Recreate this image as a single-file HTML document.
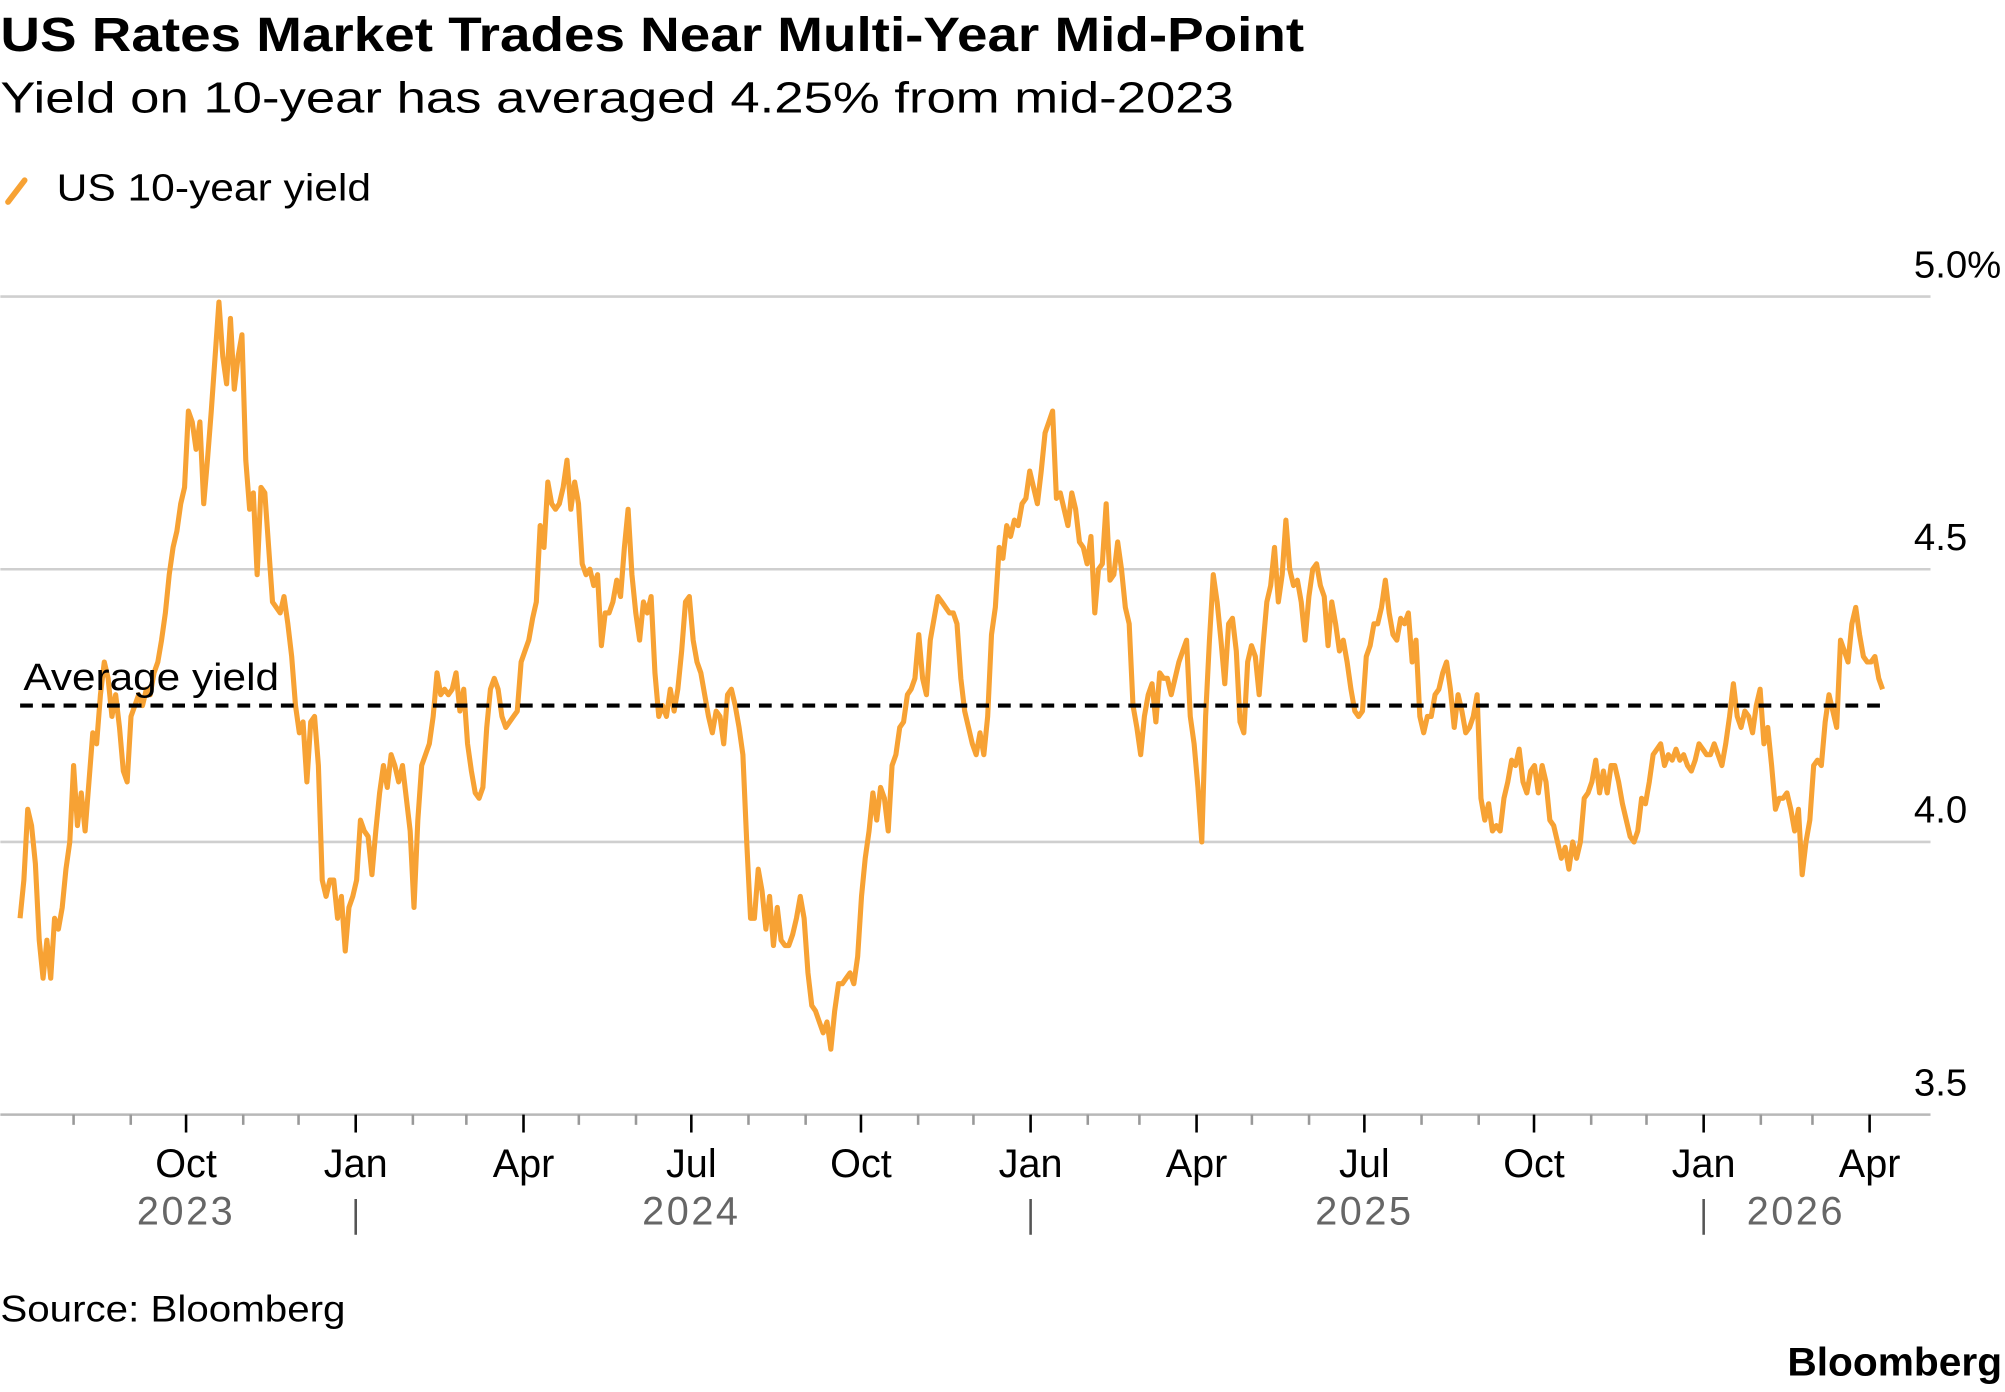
<!DOCTYPE html>
<html><head><meta charset="utf-8"><style>
html,body{margin:0;padding:0;background:#fff;}
svg{display:block;font-family:"Liberation Sans",sans-serif;}
</style></head><body>
<svg id="chart" width="2005" height="1392" viewBox="0 0 1568 1089" xmlns="http://www.w3.org/2000/svg">
<text x="0" y="40" font-size="38" font-weight="bold" fill="#000" textLength="1020" lengthAdjust="spacingAndGlyphs">US Rates Market Trades Near Multi-Year Mid-Point</text>
<text x="0" y="88" font-size="34" fill="#000" textLength="965" lengthAdjust="spacingAndGlyphs">Yield on 10-year has averaged 4.25% from mid-2023</text>
<g>
<line x1="6" y1="158" x2="19" y2="141" stroke="#f7a234" stroke-width="4.5" stroke-linecap="round"/>
<text x="44" y="157" font-size="30" fill="#000" textLength="246" lengthAdjust="spacingAndGlyphs">US 10-year yield</text>
</g>
<g id="grid"></g>
<g id="xaxis"></g>
<g id="series"></g>
<text x="0" y="1034" font-size="29" fill="#000" textLength="270" lengthAdjust="spacingAndGlyphs">Source: Bloomberg</text>
<text x="1398" y="1076" font-size="31" font-weight="bold" fill="#000" textLength="168" lengthAdjust="spacingAndGlyphs">Bloomberg</text>
</svg>
<script>
const yTicks=[3.5,4.0,4.5,5.0];
const yTickLabels=["3.5","4.0","4.5","5.0%"];
const averageYield=4.25;
const startDate="2023-07-03";
const endDate="2026-04-08";
const monthLabels=["Oct","Jan","Apr","Jul","Oct","Jan","Apr","Jul","Oct","Jan","Apr"];
const monthLabelDates=["2023-10-01","2024-01-01","2024-04-01","2024-07-01","2024-10-01","2025-01-01","2025-04-01","2025-07-01","2025-10-01","2026-01-01","2026-04-01"];
const yearLabels=["2023","2024","2025","2026"];
const yearLabelDates=["2023-10-01","2024-07-01","2025-07-01","2026-02-20"];
const yieldValues=[3.86,3.93,4.06,4.03,3.96,3.82,3.75,3.82,3.75,3.86,3.84,3.88,3.95,4.00,4.14,4.03,4.09,4.02,4.11,4.20,4.18,4.27,4.33,4.30,4.23,4.27,4.21,4.13,4.11,4.23,4.25,4.27,4.25,4.28,4.27,4.31,4.33,4.37,4.42,4.49,4.54,4.57,4.62,4.65,4.79,4.77,4.72,4.77,4.62,4.70,4.79,4.89,4.99,4.89,4.84,4.96,4.83,4.89,4.93,4.70,4.61,4.64,4.49,4.65,4.64,4.54,4.44,4.43,4.42,4.45,4.40,4.34,4.25,4.20,4.22,4.11,4.22,4.23,4.14,3.93,3.90,3.93,3.93,3.86,3.90,3.80,3.88,3.90,3.93,4.04,4.02,4.01,3.94,4.02,4.09,4.14,4.10,4.16,4.14,4.11,4.14,4.08,4.02,3.88,4.04,4.14,4.16,4.18,4.23,4.31,4.27,4.28,4.27,4.28,4.31,4.24,4.28,4.18,4.13,4.09,4.08,4.10,4.21,4.28,4.30,4.28,4.23,4.21,4.22,4.23,4.24,4.33,4.35,4.37,4.41,4.44,4.58,4.54,4.66,4.62,4.61,4.62,4.65,4.70,4.61,4.66,4.62,4.51,4.49,4.50,4.47,4.49,4.36,4.42,4.42,4.44,4.48,4.45,4.54,4.61,4.49,4.42,4.37,4.44,4.42,4.45,4.31,4.23,4.25,4.23,4.28,4.24,4.28,4.35,4.44,4.45,4.37,4.33,4.31,4.27,4.23,4.20,4.24,4.23,4.18,4.27,4.28,4.25,4.21,4.16,4.00,3.86,3.86,3.95,3.91,3.84,3.90,3.81,3.88,3.82,3.81,3.81,3.83,3.86,3.90,3.86,3.76,3.70,3.69,3.67,3.65,3.67,3.62,3.69,3.74,3.74,3.75,3.76,3.74,3.79,3.90,3.97,4.02,4.09,4.04,4.10,4.08,4.02,4.14,4.16,4.21,4.22,4.27,4.28,4.30,4.38,4.30,4.27,4.37,4.41,4.45,4.44,4.43,4.42,4.42,4.40,4.30,4.24,4.21,4.18,4.16,4.20,4.16,4.23,4.38,4.43,4.54,4.52,4.58,4.56,4.59,4.58,4.62,4.63,4.68,4.65,4.62,4.68,4.75,4.77,4.79,4.63,4.64,4.61,4.58,4.64,4.61,4.55,4.54,4.51,4.56,4.42,4.50,4.51,4.62,4.48,4.49,4.55,4.50,4.43,4.40,4.25,4.21,4.16,4.23,4.27,4.29,4.22,4.31,4.30,4.30,4.27,4.30,4.33,4.35,4.37,4.23,4.18,4.10,4.00,4.23,4.37,4.49,4.44,4.37,4.29,4.40,4.41,4.35,4.22,4.20,4.33,4.36,4.34,4.27,4.36,4.44,4.47,4.54,4.44,4.49,4.59,4.50,4.47,4.48,4.44,4.37,4.45,4.50,4.51,4.47,4.45,4.36,4.44,4.40,4.35,4.37,4.33,4.28,4.24,4.23,4.24,4.34,4.36,4.40,4.40,4.43,4.48,4.42,4.38,4.37,4.41,4.40,4.42,4.33,4.37,4.23,4.20,4.23,4.23,4.27,4.28,4.31,4.33,4.28,4.21,4.27,4.24,4.20,4.21,4.23,4.27,4.08,4.04,4.07,4.02,4.03,4.02,4.08,4.11,4.15,4.14,4.17,4.11,4.09,4.13,4.14,4.09,4.14,4.11,4.04,4.03,4.00,3.97,3.99,3.95,4.00,3.97,4.00,4.08,4.09,4.11,4.15,4.09,4.13,4.09,4.14,4.14,4.11,4.07,4.04,4.01,4.00,4.02,4.08,4.07,4.11,4.16,4.17,4.18,4.14,4.16,4.15,4.17,4.15,4.16,4.14,4.13,4.15,4.18,4.17,4.16,4.16,4.18,4.16,4.14,4.18,4.23,4.29,4.23,4.21,4.24,4.23,4.20,4.25,4.28,4.18,4.21,4.14,4.06,4.08,4.08,4.09,4.06,4.02,4.06,3.94,4.00,4.04,4.14,4.15,4.14,4.22,4.27,4.24,4.21,4.37,4.35,4.33,4.40,4.43,4.38,4.34,4.33,4.33,4.34,4.30,4.28];

const NS="http://www.w3.org/2000/svg";
const DAY=86400000;
const jan2024=Date.UTC(2024,0,1);
function parse(d){const p=d.split("-");return Date.UTC(+p[0],+p[1]-1,+p[2]);}
function xScale(t){return 278+(t-jan2024)/DAY*1.4426;}
function yScale(v){return 872-(v-3.5)*426.67;}
function mk(tag,attrs,parent){const e=document.createElementNS(NS,tag);for(const k in attrs)e.setAttribute(k,attrs[k]);parent.appendChild(e);return e;}

const grid=document.getElementById("grid");
yTicks.forEach((v,i)=>{
  const y=yScale(v);
  const ln=mk("line",{x1:0,x2:1510,y1:y,y2:y,stroke:i===0?"#b8b8b8":"#cfcfcf","stroke-width":2},grid);
  
  
  const t=mk("text",{x:1497,y:y-15,"font-size":30,fill:"#000"},grid);
  t.textContent=yTickLabels[i];
  
  
});

const xa=document.getElementById("xaxis");
const axisY=yScale(3.5);
for(let y=2023,m=7;y<2026||(y===2026&&m<=3);){
  const t=Date.UTC(y,m,1);
  const major=(m%3===0);
  const tk=mk("line",{x1:xScale(t),x2:xScale(t),y1:axisY,y2:axisY+(major?14:8),stroke:major?"#000":"#999","stroke-width":2},xa);
  
  
  m++;if(m>11){m=0;y++;}
}
monthLabels.forEach((lab,i)=>{
  const t=mk("text",{x:xScale(parse(monthLabelDates[i])),y:921,"font-size":31,"text-anchor":"middle",fill:"#000"},xa);
  t.textContent=lab;
  
  
});
yearLabels.forEach((lab,i)=>{
  const t=mk("text",{x:xScale(parse(yearLabelDates[i])),y:958,"font-size":31,"text-anchor":"middle",fill:"#666","letter-spacing":"2"},xa);
  t.textContent=lab;
  
  
});
["2024-01-01","2025-01-01","2026-01-01"].forEach(d=>{
  const x=xScale(parse(d));
  const s=mk("line",{x1:x,x2:x,y1:938,y2:966,stroke:"#555","stroke-width":2},xa);
  
  
});

const ser=document.getElementById("series");
const t0=parse(startDate),t1=parse(endDate),n=yieldValues.length;
let d="";
yieldValues.forEach((v,i)=>{
  const t=t0+(t1-t0)*i/(n-1);
  d+=(i?"L":"M")+xScale(t).toFixed(1)+","+yScale(v).toFixed(1);
});
const path=mk("path",{d:d,fill:"none",stroke:"#f7a234","stroke-width":4,"stroke-linejoin":"round"},ser);



const ay=yScale(averageYield);
const avg=mk("line",{x1:xScale(t0),x2:xScale(t1)+2,y1:ay,y2:ay,stroke:"#000","stroke-width":3.2,"stroke-dasharray":"10 7"},ser);


const at=mk("text",{x:18,y:ay-12,"font-size":30,fill:"#000",textLength:200,lengthAdjust:"spacingAndGlyphs"},ser);
at.textContent="Average yield";


</script>
</body></html>
